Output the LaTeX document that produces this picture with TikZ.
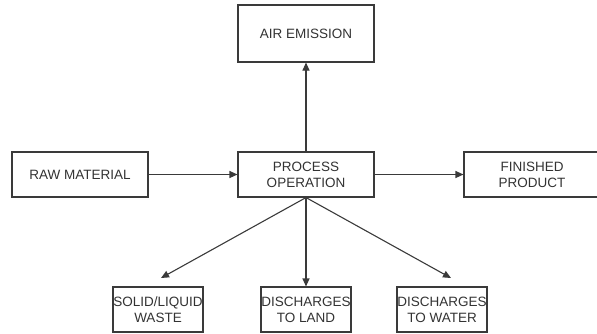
\documentclass[tikz,border=0pt]{standalone}
\usepackage{fontspec}
\setmainfont{Liberation Sans}
\usetikzlibrary{arrows.meta}
\definecolor{linegray}{HTML}{3A3A3A}
\definecolor{textgray}{HTML}{333333}
\begin{document}
\begin{tikzpicture}[x=1pt,y=-1pt,
  box/.style={draw=linegray, line width=1.1pt, fill=white, inner sep=0pt,
    text=textgray, align=center, font=\fontsize{13.5}{16}\selectfont},
  bigbox/.style={box, minimum width=136pt, minimum height=45pt},
  smallbox/.style={box, minimum width=90pt, minimum height=45pt},
  conn/.style={draw=linegray, line width=1.1pt, -{Triangle[length=8pt,width=7pt]}}]
\useasboundingbox (0,0) rectangle (597,333);
\clip (0,0) rectangle (597,333);
\node[bigbox, minimum height=57pt] (air) at (306,33.5) {AIR EMISSION};
\node[bigbox] (raw) at (80,174.5) {RAW MATERIAL};
\node[bigbox] (proc) at (306,174.5) {PROCESS\\OPERATION};
\node[bigbox] (fin) at (532,174.5) {FINISHED\\PRODUCT};
\node[smallbox] (solid) at (158,309.5) {SOLID/LIQUID\\WASTE};
\node[smallbox] (land) at (306,309.5) {DISCHARGES\\TO LAND};
\node[smallbox] (water) at (442,309.5) {DISCHARGES\\TO WATER};
\coordinate (solidtip) at (161,278);
\coordinate (watertip) at (451,278);
\draw[conn] (proc.north) -- (air.south);
\draw[conn] (raw.east) -- (proc.west);
\draw[conn] (proc.east) -- (fin.west);
\draw[conn] (proc.south) -- (land.north);
\draw[conn] (proc.south) -- (solidtip);
\draw[conn] (proc.south) -- (watertip);
\end{tikzpicture}
\end{document}
